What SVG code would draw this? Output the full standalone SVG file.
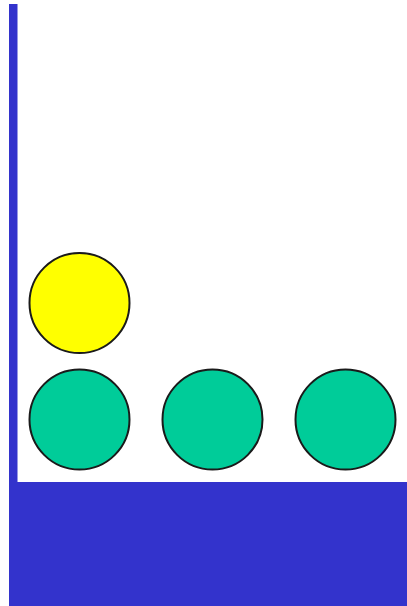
<svg xmlns="http://www.w3.org/2000/svg" width="407" height="606" viewBox="0 0 407 606">
<style>
.wall{fill:#3333cc}
.ball{stroke:#1a1a1a;stroke-width:2}
.green{fill:#00cc99}
.yellow{fill:#ffff00}
</style>
<rect width="407" height="606" fill="#ffffff"/>
<rect class="wall" x="9" y="4" width="8.5" height="602"/>
<rect class="wall" x="9" y="482" width="398" height="124"/>
<g id="ball-yellow"><circle class="ball yellow" cx="79.5" cy="303" r="50"/></g>
<g id="ball-green-1"><circle class="ball green" cx="79.5" cy="419.5" r="50"/></g>
<g id="ball-green-2"><circle class="ball green" cx="212.5" cy="419.5" r="50"/></g>
<g id="ball-green-3"><circle class="ball green" cx="345.5" cy="419.5" r="50"/></g>
</svg>
